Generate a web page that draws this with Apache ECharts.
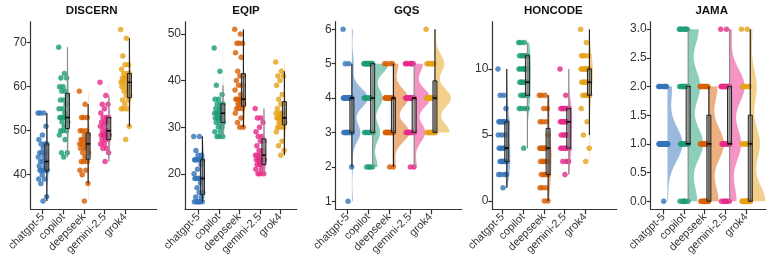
<!DOCTYPE html>
<html>
<head>
<meta charset="utf-8">
<script src="https://cdn.jsdelivr.net/npm/echarts@6/dist/echarts.min.js"></script>
<style>
  html, body { margin: 0; padding: 0; background: #fff; }
  #chart { width: 767px; height: 265px; }
</style>
</head>
<body>
<div id="chart"></div>
<script>
// models, in x order
const categories = ['chatgpt-5', 'copilot', 'deepseek', 'gemini-2.5', 'grok4']
const panelNames = ['DISCERN', 'EQIP', 'GQS', 'HONCODE', 'JAMA']

// scores, one list per model (same order as categories)
const discern = [
  [54, 54, 54, 51, 49, 48, 47, 47, 47, 46, 45, 45, 45, 44, 44, 43, 43, 43, 42, 42, 41, 41, 41, 41, 41, 40, 39, 39, 38, 35, 34],
  [69, 63, 62, 62, 60, 60, 59, 59, 58, 57, 57, 56, 55, 55, 54, 53, 53, 53, 53, 53, 52, 52, 51, 50, 50, 50, 49, 48, 45, 45, 44],
  [59, 56, 53, 53, 53, 50, 50, 50, 49, 49, 48, 48, 48, 47, 47, 47, 47, 46, 46, 46, 45, 45, 44, 43, 43, 43, 41, 41, 40, 38, 34],
  [61, 58, 56, 56, 55, 54, 53, 53, 53, 52, 52, 52, 51, 51, 50, 50, 50, 49, 49, 49, 49, 49, 48, 48, 48, 47, 47, 46, 46, 45, 43],
  [73, 71, 67, 65, 65, 64, 63, 63, 63, 62, 62, 62, 62, 61, 61, 61, 60, 60, 60, 59, 59, 58, 58, 57, 57, 56, 55, 55, 55, 51, 48]
]
const eqip = [
  [28, 28, 25, 24, 24, 23, 23, 23, 23, 23, 23, 22, 21, 20, 19, 19, 19, 19, 19, 18, 17, 16, 16, 15, 15, 14, 14, 14, 14, 14, 14],
  [47, 42, 39, 37, 36, 36, 35, 35, 35, 34, 34, 34, 33, 33, 33, 33, 33, 32, 32, 32, 32, 31, 31, 31, 30, 30, 29, 29, 28, 28, 28],
  [51, 50, 48, 48, 48, 46, 45, 42, 41, 41, 40, 39, 39, 38, 37, 36, 36, 36, 36, 36, 35, 35, 35, 34, 34, 34, 33, 32, 31, 30, 30],
  [34, 32, 32, 31, 30, 29, 28, 28, 27, 27, 26, 25, 25, 24, 24, 24, 23, 23, 23, 23, 23, 23, 22, 22, 22, 22, 21, 21, 20, 20, 20],
  [44, 42, 41, 41, 40, 39, 37, 36, 35, 35, 34, 33, 33, 33, 33, 32, 32, 32, 32, 32, 31, 31, 31, 30, 30, 30, 29, 27, 26, 25, 24]
]
const gqs = [
  [6, 5, 5, 4, 4, 4, 4, 4, 4, 4, 4, 4, 4, 4, 4, 4, 4, 4, 4, 4, 3, 3, 3, 3, 3, 3, 3, 3, 3, 2, 1],
  [5, 5, 5, 5, 5, 5, 5, 5, 5, 5, 5, 5, 5, 4, 4, 4, 4, 4, 4, 4, 4, 3, 3, 3, 3, 3, 3, 2, 2, 2, 2],
  [5, 5, 5, 5, 4, 4, 4, 4, 4, 4, 4, 4, 4, 4, 4, 4, 3, 3, 3, 3, 3, 3, 3, 3, 3, 3, 3, 3, 3, 2, 2],
  [5, 5, 5, 5, 5, 5, 5, 4, 4, 4, 4, 4, 4, 4, 4, 4, 4, 4, 4, 4, 3, 3, 3, 3, 3, 3, 3, 3, 3, 2, 2],
  [6, 5, 5, 5, 5, 5, 5, 5, 4, 4, 4, 4, 4, 4, 4, 4, 4, 4, 4, 4, 3, 3, 3, 3, 3, 3, 3, 3, 3, 3, 3]
]
const honcode = [
  [10, 8, 8, 7, 6, 6, 6, 6, 6, 6, 6, 5, 5, 5, 4, 4, 4, 4, 4, 3, 3, 3, 3, 3, 3, 3, 2, 2, 2, 2, 1],
  [12, 12, 12, 11, 11, 11, 11, 11, 11, 10, 10, 10, 10, 10, 10, 9, 9, 9, 9, 9, 9, 8, 8, 8, 8, 8, 7, 7, 7, 7, 4],
  [8, 8, 8, 7, 7, 6, 6, 6, 5, 4, 4, 4, 4, 4, 4, 4, 3, 3, 3, 3, 3, 2, 2, 2, 2, 2, 1, 1, 1, 0, 0],
  [10, 8, 7, 7, 7, 7, 7, 7, 7, 6, 6, 6, 6, 6, 6, 6, 5, 5, 5, 5, 5, 4, 4, 4, 4, 4, 4, 3, 3, 3, 2],
  [13, 12, 11, 11, 11, 11, 10, 10, 10, 10, 10, 10, 10, 10, 10, 9, 9, 9, 9, 9, 9, 8, 8, 8, 8, 8, 7, 6, 5, 4, 3]
]
const jama = [
  [2, 2, 2, 2, 2, 2, 2, 1, 1, 1, 1, 1, 1, 1, 1, 1, 1, 1, 1, 1, 1, 1, 1, 1, 1, 1, 1, 1, 1, 1, 0],
  [3, 3, 3, 3, 3, 3, 3, 2, 2, 2, 2, 2, 2, 2, 2, 1, 1, 1, 1, 1, 1, 1, 1, 1, 1, 0, 0, 0, 0, 0, 0],
  [2, 2, 2, 2, 2, 2, 2, 2, 1, 1, 1, 1, 1, 1, 1, 1, 1, 1, 1, 1, 1, 1, 0, 0, 0, 0, 0, 0, 0, 0, 0],
  [3, 3, 2, 2, 2, 2, 2, 2, 2, 2, 2, 2, 2, 2, 2, 1, 1, 1, 1, 1, 1, 1, 1, 1, 1, 0, 0, 0, 0, 0, 0],
  [3, 3, 2, 2, 2, 2, 2, 2, 1, 1, 1, 1, 1, 1, 1, 1, 1, 0, 0, 0, 0, 0, 0, 0, 0, 0, 0, 0, 0, 0, 0]
]

// y tick labels
const discernTicks = [40, 50, 60, 70]
const eqipTicks = [20, 30, 40, 50]
const gqsTicks = [1, 2, 3, 4, 5, 6]
const honcodeTicks = [0, 5, 10]
const jamaTicks = [0, 0.5, 1, 1.5, 2, 2.5, 3]

const colors = ['#3574b9', '#1b9e77', '#d95f02', '#e7298a', '#e6a117']
const whiskerColors = ['#222', '#8c8c8c', '#222', '#8c8c8c', '#222']
const fontFamily = '"Liberation Sans", Arial, sans-serif'

// layout of each panel (px) + axis ranges + violin look
const panels = [
  { data: discern, ticks: discernTicks, left: 30.7, right: 156.7, xMin: -0.58, xMax: 5.52, yMin: 32.14, yMax: 74.78, bw: 2.5, violinW: 2, digits: 0, titleX: 86.7 },
  { data: eqip, ticks: eqipTicks, left: 185, right: 296.7, xMin: -0.65, xMax: 4.8, yMin: 12.38, yMax: 52.64, bw: 2, violinW: 2, digits: 0, titleX: 241 },
  { data: gqs, ticks: gqsTicks, left: 335.7, right: 461.7, xMin: -0.58, xMax: 5.49, yMin: 0.767, yMax: 6.22, bw: 0.28, violinW: 16, digits: 0, titleX: 401.7 },
  { data: honcode, ticks: honcodeTicks, left: 492.3, right: 616.7, xMin: -0.5, xMax: 5.52, yMin: -0.63, yMax: 13.58, bw: 0.8, violinW: 3.5, digits: 0, titleX: 548.3 },
  { data: jama, ticks: jamaTicks, left: 650.7, right: 766, xMin: -0.61, xMax: 4.96, yMin: -0.14, yMax: 3.13, bw: 0.3, violinW: 15, digits: 1, titleX: 706.7 }
]

const BOX_OFF = 0.2 // box / violin base sits right of the dots
const BOX_HALF = 2 // px

function quantile(sorted, p) {
  const pos = (sorted.length - 1) * p
  const lo = Math.floor(pos)
  const hi = Math.ceil(pos)
  return sorted[lo] + (sorted[hi] - sorted[lo]) * (pos - lo)
}

function boxStats(values) {
  const s = values.slice().sort((a, b) => a - b)
  const q1 = quantile(s, 0.25)
  const med = quantile(s, 0.5)
  const q3 = quantile(s, 0.75)
  const iqr = q3 - q1
  const lo = s.find((v) => v >= q1 - 1.5 * iqr)
  const hi = s.slice().reverse().find((v) => v <= q3 + 1.5 * iqr)
  return [lo, q1, med, q3, hi]
}

// kernel density, cut at the data range, normalised to 1
function violinCurve(values, bw) {
  const min = Math.min(...values)
  const max = Math.max(...values)
  const steps = 80
  const pts = []
  for (let k = 0; k <= steps; k++) {
    const y = min + ((max - min) * k) / steps
    let d = 0
    values.forEach((v) => {
      const z = (y - v) / bw
      d += Math.exp(-0.5 * z * z)
    })
    pts.push([y, d])
  }
  const top = Math.max(...pts.map((p) => p[1]))
  return pts.map((p) => [p[0], p[1] / top])
}

const jitter = (k) => (((k * 0.618034) % 1) - 0.5) * 0.45

const axisColor = '#333'
const grid = []
const xAxis = []
const yAxis = []
const title = []
const series = []

panels.forEach((p, i) => {
  grid.push({ left: p.left, top: 21.7, width: p.right - p.left, height: 187.6 })
  title.push({
    text: panelNames[i],
    left: p.titleX,
    top: 0,
    textAlign: 'center',
    textStyle: { fontSize: 11.5, fontWeight: 'bold', color: '#111', fontFamily }
  })
  xAxis.push({
    gridIndex: i,
    type: 'value',
    min: p.xMin,
    max: p.xMax,
    splitLine: { show: false },
    axisLine: { onZero: false, lineStyle: { color: axisColor, width: 1.2 } },
    axisTick: { customValues: [0, 1, 2, 3, 4], length: 5, lineStyle: { color: axisColor, width: 1.2 } },
    axisLabel: {
      customValues: [0, 1, 2, 3, 4],
      formatter: (v) => categories[v],
      rotate: 45,
      margin: 6,
      fontSize: 11,
      color: '#333',
      fontFamily
    }
  })
  yAxis.push({
    gridIndex: i,
    type: 'value',
    min: p.yMin,
    max: p.yMax,
    splitLine: { show: false },
    axisLine: { onZero: false, lineStyle: { color: axisColor, width: 1.2 } },
    axisTick: { customValues: p.ticks, length: 4, lineStyle: { color: axisColor, width: 1.2 } },
    axisLabel: {
      customValues: p.ticks,
      formatter: (v) => v.toFixed(p.digits),
      margin: 4,
      fontSize: 12,
      color: '#333',
      fontFamily
    }
  })

  const curves = p.data.map((vals) => violinCurve(vals, p.bw))

  // half violins
  series.push({
    type: 'custom',
    xAxisIndex: i,
    yAxisIndex: i,
    z: 1,
    silent: true,
    data: p.data.map((vals, c) => [c, Math.min(...vals), Math.max(...vals)]),
    encode: { x: 0, y: [1, 2] },
    renderItem: (params, api) => {
      const c = api.value(0)
      const curve = curves[c]
      const pts = curve.map(([y, d]) => {
        const q = api.coord([c + BOX_OFF, y])
        return [q[0] + d * p.violinW, q[1]]
      })
      pts.push(api.coord([c + BOX_OFF, curve[curve.length - 1][0]]))
      pts.push(api.coord([c + BOX_OFF, curve[0][0]]))
      return {
        type: 'polygon',
        shape: { points: pts },
        style: { fill: colors[c], opacity: 0.5 }
      }
    }
  })

  // jittered points
  series.push({
    type: 'scatter',
    xAxisIndex: i,
    yAxisIndex: i,
    z: 2,
    symbolSize: 5,
    data: p.data.flatMap((vals, c) =>
      vals.map((v, k) => ({
        value: [c + jitter(k), v],
        itemStyle: { color: colors[c], opacity: 0.8, borderColor: colors[c], borderWidth: 0.5 }
      }))
    )
  })

  // boxes
  series.push({
    type: 'custom',
    xAxisIndex: i,
    yAxisIndex: i,
    z: 3,
    silent: true,
    data: p.data.map((vals, c) => [c, ...boxStats(vals)]),
    encode: { x: 0, y: [1, 5] },
    renderItem: (params, api) => {
      const c = api.value(0)
      // all quartiles equal -> nothing to draw
      if (api.value(2) === api.value(4)) return null
      const lo = api.coord([c + BOX_OFF, api.value(1)])
      const q1 = api.coord([c + BOX_OFF, api.value(2)])
      const med = api.coord([c + BOX_OFF, api.value(3)])
      const q3 = api.coord([c + BOX_OFF, api.value(4)])
      const hi = api.coord([c + BOX_OFF, api.value(5)])
      const x = lo[0]
      return {
        type: 'group',
        children: [
          {
            type: 'line',
            shape: { x1: x, y1: hi[1], x2: x, y2: lo[1] },
            style: { stroke: whiskerColors[c], lineWidth: 1.2 }
          },
          {
            type: 'rect',
            shape: { x: x - BOX_HALF, y: q3[1], width: BOX_HALF * 2, height: q1[1] - q3[1] },
            style: { fill: 'rgba(120,120,120,0.55)', stroke: '#222', lineWidth: 1 }
          },
          {
            type: 'line',
            shape: { x1: x - BOX_HALF, y1: med[1], x2: x + BOX_HALF, y2: med[1] },
            style: { stroke: '#000', lineWidth: 1.5 }
          }
        ]
      }
    }
  })
})

const myChart = echarts.init(document.getElementById('chart'), null, { renderer: 'canvas' })
myChart.setOption({
  animation: false,
  backgroundColor: '#fff',
  title,
  grid,
  xAxis,
  yAxis,
  series
})
</script>
</body>
</html>
